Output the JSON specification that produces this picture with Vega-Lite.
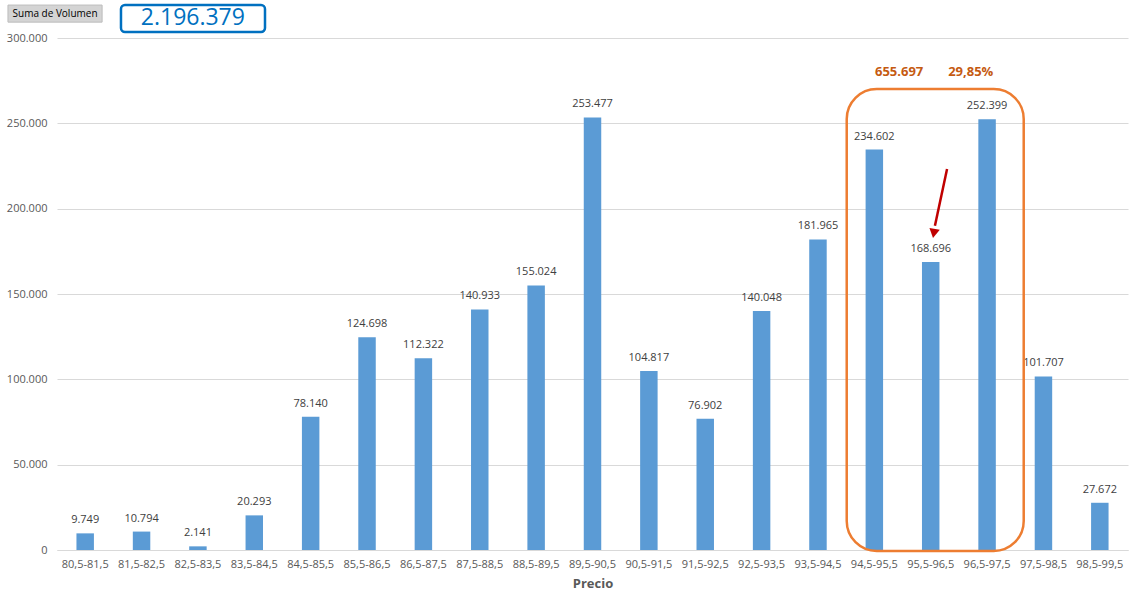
{
  "$schema": "https://vega.github.io/schema/vega-lite/v6.json",
  "autosize": {"type": "none"},
  "width": 1071,
  "height": 512,
  "padding": {"left": 57, "top": 38, "right": 13, "bottom": 48},
  "background": "white",
  "config": {
    "locale": {"number": {"decimal": ",", "thousands": ".", "grouping": [3], "currency": ["", " €"]}},
    "view": {"stroke": null},
    "font": "Open Sans"
  },
  "datasets": {
    "bars": [
      {"rango": "80,5-81,5", "volumen": 9749},
      {"rango": "81,5-82,5", "volumen": 10794},
      {"rango": "82,5-83,5", "volumen": 2141},
      {"rango": "83,5-84,5", "volumen": 20293},
      {"rango": "84,5-85,5", "volumen": 78140},
      {"rango": "85,5-86,5", "volumen": 124698},
      {"rango": "86,5-87,5", "volumen": 112322},
      {"rango": "87,5-88,5", "volumen": 140933},
      {"rango": "88,5-89,5", "volumen": 155024},
      {"rango": "89,5-90,5", "volumen": 253477},
      {"rango": "90,5-91,5", "volumen": 104817},
      {"rango": "91,5-92,5", "volumen": 76902},
      {"rango": "92,5-93,5", "volumen": 140048},
      {"rango": "93,5-94,5", "volumen": 181965},
      {"rango": "94,5-95,5", "volumen": 234602},
      {"rango": "95,5-96,5", "volumen": 168696},
      {"rango": "96,5-97,5", "volumen": 252399},
      {"rango": "97,5-98,5", "volumen": 101707},
      {"rango": "98,5-99,5", "volumen": 27672}
    ],
    "orangeBox": [{"x": 14.01, "x2": 17.15, "y": 270100, "y2": -600}],
    "blueBox": [{"x": 1.135, "x2": 3.69, "y": 319300, "y2": 303500}],
    "button": [{"x": -0.87, "x2": 0.8, "y": 319300, "y2": 309300}],
    "orangeText": [
      {"x": 14.94, "y": 280060, "label": "655.697"},
      {"x": 16.21, "y": 280060, "label": "29,85%"}
    ],
    "blueText": [{"x": 2.41, "y": 311500, "label": "2.196.379"}],
    "buttonText": [{"x": -0.035, "y": 314300, "label": "Suma de Volumen"}],
    "arrow": [{"x": 15.79, "y": 223200, "x2": 15.575, "y2": 190000}],
    "arrowHead": [{"x": 15.555, "y": 185500}]
  },
  "resolve": {"scale": {"x": "independent"}},
  "layer": [
    {
      "data": {"name": "bars"},
      "encoding": {
        "x": {
          "field": "rango", "type": "nominal", "sort": null,
          "scale": {"paddingInner": 0.69, "paddingOuter": 0.345},
          "axis": {
            "labelAngle": 0, "domain": true, "domainColor": "#D9D9D9", "ticks": false,
            "labelPadding": 8, "labelColor": "#595959", "labelFontSize": 11,
            "title": "Precio", "titleFontWeight": "bold", "titleFontSize": 13,
            "titleColor": "#595959", "titlePadding": 8
          }
        },
        "y": {
          "field": "volumen", "type": "quantitative",
          "scale": {"domain": [0, 300000], "nice": false},
          "axis": {
            "values": [0, 50000, 100000, 150000, 200000, 250000, 300000],
            "format": ",.0f", "grid": true, "gridColor": "#D9D9D9", "domain": false,
            "ticks": false, "labelColor": "#595959", "labelFontSize": 11,
            "labelPadding": 10, "title": null
          }
        }
      },
      "layer": [
        {"mark": {"type": "bar", "color": "#5B9BD5"}},
        {
          "mark": {"type": "text", "baseline": "middle", "dy": -13, "fontSize": 11, "color": "#404040"},
          "encoding": {"text": {"field": "volumen", "type": "quantitative", "format": ",.0f"}}
        }
      ]
    },
    {
      "encoding": {
        "x": {"field": "x", "type": "quantitative", "scale": {"domain": [0, 19], "nice": false, "zero": false}, "axis": null},
        "y": {
          "field": "y", "type": "quantitative",
          "axis": {
            "values": [0, 50000, 100000, 150000, 200000, 250000, 300000],
            "format": ",.0f", "grid": true, "gridColor": "#D9D9D9", "domain": false,
            "ticks": false, "labelColor": "#595959", "labelFontSize": 11,
            "labelPadding": 10, "title": null
          }
        }
      },
      "layer": [
        {
          "data": {"name": "orangeBox"},
          "mark": {"type": "rect", "fill": null, "fillOpacity": 0, "stroke": "#ED7D31", "strokeWidth": 2.5, "cornerRadius": 30},
          "encoding": {"x2": {"field": "x2"}, "y2": {"field": "y2"}}
        },
        {
          "data": {"name": "blueBox"},
          "mark": {"type": "rect", "fill": "white", "stroke": "#0070C0", "strokeWidth": 2.5, "cornerRadius": 4},
          "encoding": {"x2": {"field": "x2"}, "y2": {"field": "y2"}}
        },
        {
          "data": {"name": "button"},
          "mark": {"type": "rect", "fill": "#D4D4D4", "stroke": "#BDBDBD", "strokeWidth": 1},
          "encoding": {"x2": {"field": "x2"}, "y2": {"field": "y2"}}
        },
        {
          "data": {"name": "orangeText"},
          "mark": {"type": "text", "fontSize": 13, "fontWeight": "bold", "color": "#C55A11", "baseline": "middle"},
          "encoding": {"text": {"field": "label"}}
        },
        {
          "data": {"name": "blueText"},
          "mark": {"type": "text", "fontSize": 23, "color": "#0070C0", "baseline": "middle"},
          "encoding": {"text": {"field": "label"}}
        },
        {
          "data": {"name": "buttonText"},
          "mark": {"type": "text", "fontSize": 10, "color": "#000000", "baseline": "middle"},
          "encoding": {"text": {"field": "label"}}
        },
        {
          "data": {"name": "arrow"},
          "mark": {"type": "rule", "color": "#C00000", "strokeWidth": 2.5},
          "encoding": {"x2": {"field": "x2"}, "y2": {"field": "y2"}}
        },
        {
          "data": {"name": "arrowHead"},
          "mark": {"type": "point", "shape": "triangle-down", "filled": true, "color": "#C00000", "opacity": 1, "size": 110, "angle": 10}
        }
      ]
    }
  ]
}
